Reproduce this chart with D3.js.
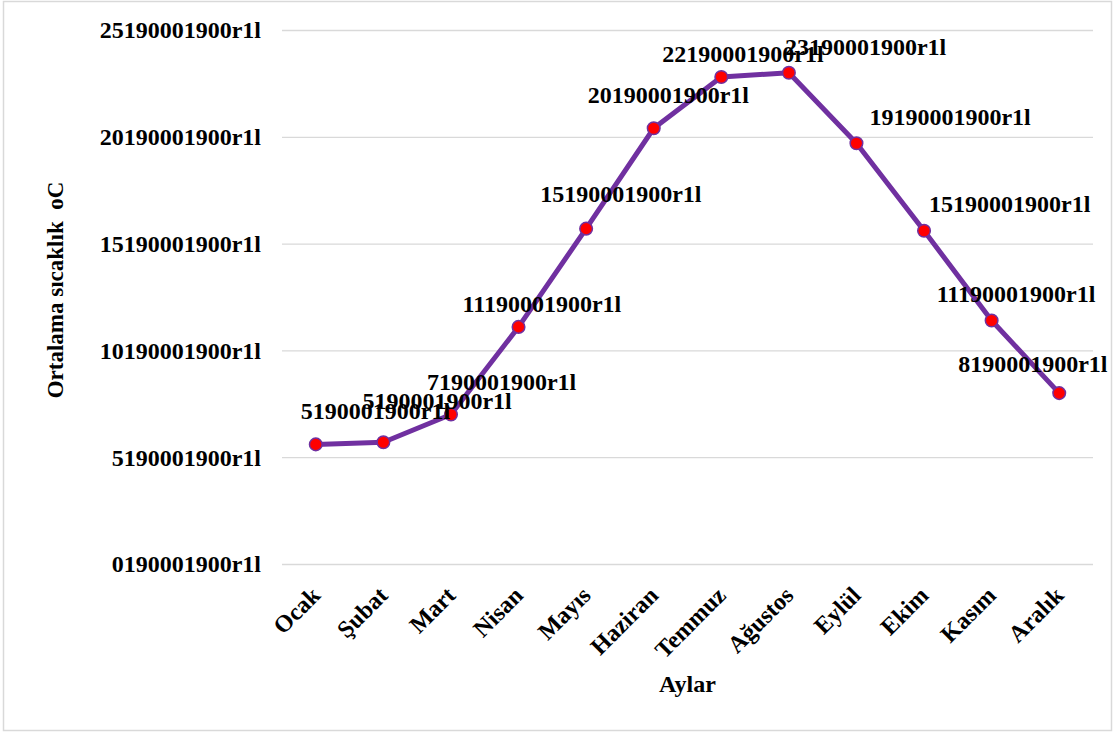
<!DOCTYPE html>
<html>
<head>
<meta charset="utf-8">
<script src="https://cdn.jsdelivr.net/npm/d3@7"></script>
<style>
  html, body { margin: 0; padding: 0; background: #fff; }
  svg { display: block; }
  text { font-family: "Liberation Serif", "Times New Roman", serif; font-weight: bold; fill: #000; }
</style>
</head>
<body>
<svg id="chart" width="1113" height="733"></svg>
<script>
// ---- data ----
const months = ["Ocak", "Şubat", "Mart", "Nisan", "Mayıs", "Haziran", "Temmuz", "Ağustos", "Eylül", "Ekim", "Kasım", "Aralık"];
const temps = [5.6, 5.7, 7.0, 11.1, 15.7, 20.4, 22.8, 23.0, 19.7, 15.6, 11.4, 8.0];
const labelNums = [5, 5, 7, 11, 15, 20, 22, 23, 19, 15, 11, 8];
const tickValues = [0, 5, 10, 15, 20, 25];
const labelSuffix = "190001900r1l";
const xTitle = "Aylar";
const yTitle = "Ortalama sıcaklık  oC";

// ---- layout (label offsets relative to the point, in px) ----
const labelDx = [-15, -21, -24, -56, -46, -66, -59, -4, 13, 5, -55, -101];
const labelDy = [-25, -33, -24, -15, -27, -25, -15, -18, -18, -19, -18, -21];

const W = 1113, H = 733;
const plot = { left: 282, right: 1093, top: 30, bottom: 564 };

const svg = d3.select("#chart");

svg.append("rect")
  .attr("x", 3.5).attr("y", 1.5)
  .attr("width", W - 5).attr("height", H - 4)
  .attr("fill", "#fff").attr("stroke", "#d9d9d9").attr("stroke-width", 1.5);

const x = d3.scaleBand().domain(months).range([plot.left, plot.right]).padding(0);
const y = d3.scaleLinear().domain([0, 25]).range([plot.bottom, plot.top]);
const cx = m => x(m) + x.bandwidth() / 2;

// gridlines + y labels via axis
const yAxis = d3.axisLeft(y)
  .tickValues(tickValues)
  .tickSize(-(plot.right - plot.left))
  .tickPadding(21)
  .tickFormat(d => d + labelSuffix);

const gy = svg.append("g")
  .attr("transform", `translate(${plot.left},0)`)
  .call(yAxis);
gy.select(".domain").remove();
gy.selectAll(".tick line").attr("stroke", "#d9d9d9").attr("stroke-width", 1.3);
gy.selectAll(".tick text")
  .attr("font-size", 24)
  .attr("font-family", "Liberation Serif, Times New Roman, serif")
  .attr("font-weight", "bold")
  .attr("fill", "#000")
  .attr("dy", "0.33em");

// x axis labels (rotated)
const xAxis = d3.axisBottom(x).tickSize(0).tickPadding(0);
const gx = svg.append("g")
  .attr("transform", `translate(0,${plot.bottom})`)
  .call(xAxis);
gx.select(".domain").remove();
gx.selectAll(".tick text")
  .attr("font-size", 24)
  .attr("font-family", "Liberation Serif, Times New Roman, serif")
  .attr("font-weight", "bold")
  .attr("fill", "#000")
  .attr("text-anchor", "end")
  .attr("x", 0).attr("y", 0).attr("dy", "0.7em")
  .attr("transform", "translate(-6,21) rotate(-45)");

// axis titles
svg.append("text")
  .attr("x", (plot.left + plot.right) / 2)
  .attr("y", 692)
  .attr("text-anchor", "middle")
  .attr("font-size", 24)
  .text(xTitle);

svg.append("text")
  .attr("transform", "translate(63,290) rotate(-90)")
  .attr("text-anchor", "middle")
  .attr("font-size", 23)
  .style("white-space", "pre")
  .text(yTitle);

// line
const line = d3.line()
  .x((d, i) => cx(months[i]))
  .y(d => y(d));

svg.append("path")
  .datum(temps)
  .attr("fill", "none")
  .attr("stroke", "#7030A0")
  .attr("stroke-width", 5)
  .attr("stroke-linejoin", "round")
  .attr("d", line);

// markers
svg.append("g").selectAll("circle")
  .data(temps)
  .join("circle")
  .attr("cx", (d, i) => cx(months[i]))
  .attr("cy", d => y(d))
  .attr("r", 6.3)
  .attr("fill", "#FF0000")
  .attr("stroke", "#7030A0")
  .attr("stroke-width", 1.5);

// data labels
svg.append("g").selectAll("text")
  .data(temps)
  .join("text")
  .attr("x", (d, i) => cx(months[i]) + labelDx[i])
  .attr("y", (d, i) => y(d) + labelDy[i])
  .attr("font-size", 24)
  .text((d, i) => labelNums[i] + labelSuffix);
</script>
</body>
</html>
